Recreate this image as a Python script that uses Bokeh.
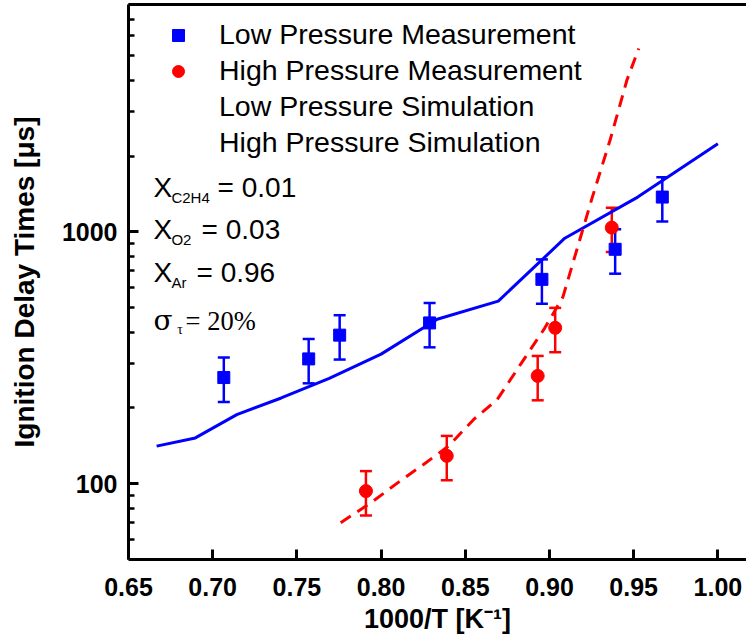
from bokeh.plotting import figure
from bokeh.models import (ColumnDataSource, Whisker, TeeHead, FixedTicker, Legend, LegendItem,
                          Label, LinearAxis, PrintfTickFormatter, Range1d)
from bokeh.embed import file_html
from bokeh.resources import INLINE

# ---------------- data ----------------
low_meas_x = [0.7066, 0.757, 0.7754, 0.8288, 0.8955, 0.939, 0.967]
low_meas_y = [264, 313, 389, 435, 648, 853, 1375]

high_meas_x = [0.791, 0.839, 0.893, 0.9034, 0.937]
high_meas_y = [93.5, 129, 268, 416, 1040]

low_sim_x = [0.6667, 0.6897, 0.7143, 0.7407, 0.7692, 0.8000, 0.8333, 0.8696, 0.9091, 0.9524, 1.0000]
low_sim_y = [141, 152, 188, 219, 262, 327, 450, 531, 944, 1375, 2240]

high_sim_x = [0.776, 0.794, 0.810, 0.825, 0.840, 0.855, 0.869, 0.883, 0.897, 0.908, 0.925, 0.936, 0.946, 0.953]
high_sim_y = [70, 84, 101, 119, 141, 180, 216, 299, 413, 552, 1343, 2317, 4010, 5350]

sigma = 0.20  # sigma_tau = 20 %

x_ticks = [0.65, 0.70, 0.75, 0.80, 0.85, 0.90, 0.95, 1.00]
y_ticks = [100, 1000]
y_minor = [60, 70, 80, 90, 200, 300, 400, 500, 600, 700, 800, 900,
           2000, 3000, 4000, 5000, 6000, 7000, 8000]

BLUE = "#0000ff"
RED = "#ff0000"
FONT = "Liberation Sans"

p = figure(width=746, height=637, y_axis_type="log",
           x_range=Range1d(0.65, 1.017), y_range=Range1d(50, 8000),
           output_backend="svg", toolbar_location=None,
           min_border_left=128, min_border_right=0, min_border_top=4, min_border_bottom=78,
           x_axis_label="1000/T [K\u207b\u00b9]", y_axis_label="Ignition Delay Times [\u03bcs]")
p.outline_line_color = None
p.xgrid.grid_line_color = None
p.ygrid.grid_line_color = None
p.background_fill_color = "white"
p.border_fill_color = "white"

xa = p.below[0]
ya = p.left[0]
xa.ticker = FixedTicker(ticks=x_ticks, minor_ticks=[])
xa.formatter = PrintfTickFormatter(format="%.2f")
ya.ticker = FixedTicker(ticks=y_ticks, minor_ticks=y_minor)
ya.formatter = PrintfTickFormatter(format="%d")
for ax in (xa, ya):
    ax.axis_line_width = 3
    ax.axis_line_color = "black"
    ax.major_tick_in = 10
    ax.major_tick_out = 0
    ax.minor_tick_in = 6
    ax.minor_tick_out = 0
    ax.major_tick_line_width = 3
    ax.minor_tick_line_width = 2.5
    ax.major_label_text_font = FONT
    ax.major_label_text_font_style = "bold"
    ax.major_label_text_font_size = "25px"
    ax.major_label_text_color = "black"
    ax.axis_label_text_font = FONT
    ax.axis_label_text_font_style = "bold"
    ax.axis_label_text_color = "black"
xa.axis_label_text_font_size = "27px"
ya.axis_label_text_font_size = "28px"
xa.major_label_text_line_height = 1.0
xa.axis_label_text_line_height = 1.0
xa.major_label_standoff = 18
xa.axis_label_standoff = 5
ya.major_label_standoff = 11
ya.axis_label_standoff = 19

top = LinearAxis(ticker=FixedTicker(ticks=[]), axis_line_width=3, axis_line_color="black",
                 major_tick_line_color=None, minor_tick_line_color=None,
                 major_label_text_font_size="0px")
p.add_layout(top, "above")

# ---------------- simulations ----------------
r_lsim = p.line(low_sim_x, low_sim_y, line_color=BLUE, line_width=3)
r_hsim = p.line(high_sim_x, high_sim_y, line_color=RED, line_width=3, line_dash="12 8")

# ---------------- measurements ----------------
low_src = ColumnDataSource(dict(x=low_meas_x, y=low_meas_y,
                                upper=[v * (1 + sigma) for v in low_meas_y],
                                lower=[v * (1 - sigma) for v in low_meas_y]))
high_src = ColumnDataSource(dict(x=high_meas_x, y=high_meas_y,
                                 upper=[v * (1 + sigma) for v in high_meas_y],
                                 lower=[v * (1 - sigma) for v in high_meas_y]))

for src, col in ((low_src, BLUE), (high_src, RED)):
    p.add_layout(Whisker(base="x", upper="upper", lower="lower", source=src, dimension="height",
                         line_color=col, line_width=2.5,
                         upper_head=TeeHead(size=12, line_color=col, line_width=2.5),
                         lower_head=TeeHead(size=12, line_color=col, line_width=2.5)))

r_low = p.scatter("x", "y", source=low_src, marker="square", size=12,
                  fill_color=BLUE, line_color=BLUE)
r_high = p.scatter("x", "y", source=high_src, marker="circle", size=13,
                   fill_color=RED, line_color=RED)

# legend (the simulation entries show no symbol in the reference)
d1 = p.line(x=[], y=[], line_alpha=0)
d2 = p.line(x=[], y=[], line_alpha=0)
legend = Legend(items=[LegendItem(label="Low Pressure Measurement", renderers=[r_low]),
                       LegendItem(label="High Pressure Measurement", renderers=[r_high]),
                       LegendItem(label="Low Pressure Simulation", renderers=[d1]),
                       LegendItem(label="High Pressure Simulation", renderers=[d2])],
                location="top_left", margin=14, padding=14, spacing=3,
                glyph_width=72, glyph_height=30, label_height=30, label_standoff=5,
                label_text_font=FONT, label_text_font_size="28.5px", label_text_color="black",
                background_fill_alpha=0, border_line_color=None)
p.add_layout(legend)

# ---------------- composition text ----------------
def lab(x, y, t, size, font=FONT):
    p.add_layout(Label(x=x, y=y, text=t, text_font=font, text_font_size=size,
                       text_color="black", text_baseline="alphabetic", text_align="left"))

lab(0.6648, 1502, "X", "28px")
lab(0.6755, 1367, "C2H4", "15px")
lab(0.7029, 1502, "= 0.01", "28px")

lab(0.6648, 1021, "X", "28px")
lab(0.6755, 932, "O2", "15px")
lab(0.6934, 1021, "= 0.03", "28px")

lab(0.6648, 688, "X", "28px")
lab(0.6755, 630, "Ar", "15px")
lab(0.6904, 688, "= 0.96", "28px")

lab(0.6648, 443, "\u03c3", "28px", "DejaVu Serif")
lab(0.6789, 411, "\u03c4", "14px", "Liberation Serif")
lab(0.6839, 443, "= 20%", "26.5px", "Liberation Serif")

open("out.html", "w").write(file_html(p, INLINE))
